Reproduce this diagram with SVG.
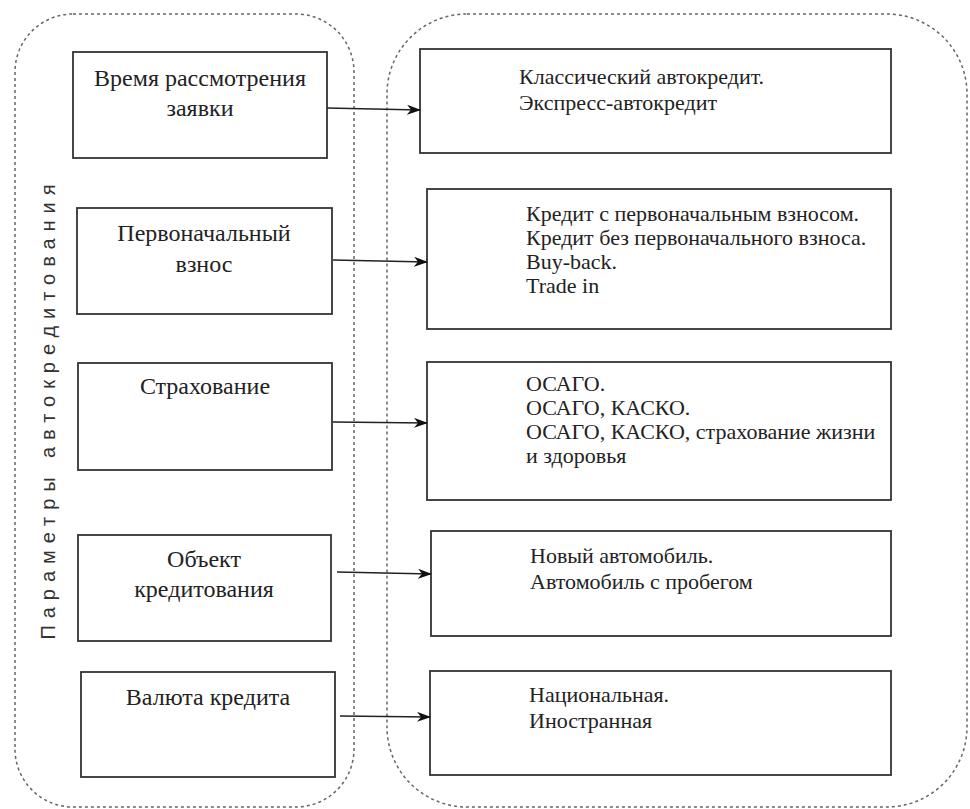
<svg xmlns="http://www.w3.org/2000/svg" width="970" height="809" viewBox="0 0 970 809">
  <defs>
    <marker id="arrow" viewBox="0 0 14 10" refX="13" refY="5" markerWidth="14" markerHeight="10" markerUnits="userSpaceOnUse" orient="auto">
      <path d="M0,0 L14,5 L0,10 L4,5 Z" fill="#111"/>
    </marker>
  </defs>
  <style>
    .frame { fill: none; stroke: #666; stroke-width: 1.5; stroke-dasharray: 3 3; }
    .box { fill: #fff; stroke: #333; stroke-width: 1.8; }
    .t { font-family: "Liberation Serif", "Times New Roman", serif; font-size: 22px; fill: #222; }
    .c { text-anchor: middle; font-size: 24px; }
    .side { font-family: "Liberation Sans", Arial, sans-serif; font-size: 20px; fill: #333; }
    .link { fill: none; stroke: #222; stroke-width: 1.6; marker-end: url(#arrow); }
  </style>
  <rect width="970" height="809" fill="#fff"/>

  <!-- dashed groupings -->
  <rect class="frame" x="15" y="14" width="339" height="793" rx="58" ry="58"/>
  <rect class="frame" x="387" y="14" width="580" height="793" rx="80" ry="80"/>

  <!-- rotated heading -->
  <text class="side" transform="translate(48,412) rotate(-90)" text-anchor="middle" dominant-baseline="central" textLength="455" lengthAdjust="spacing">Параметры автокредитования</text>

  <!-- parameters -->
  <g id="p1">
    <rect class="box" x="73" y="52" width="254" height="106"/>
    <text class="t c" x="200" y="86">Время рассмотрения</text>
    <text class="t c" x="200" y="116">заявки</text>
  </g>
  <g id="p2">
    <rect class="box" x="77" y="208" width="255" height="106"/>
    <text class="t c" x="204" y="241">Первоначальный</text>
    <text class="t c" x="204" y="272">взнос</text>
  </g>
  <g id="p3">
    <rect class="box" x="78" y="363" width="254" height="107"/>
    <text class="t c" x="205" y="394">Страхование</text>
  </g>
  <g id="p4">
    <rect class="box" x="78" y="535" width="253" height="106"/>
    <text class="t c" x="204" y="567">Объект</text>
    <text class="t c" x="204" y="597">кредитования</text>
  </g>
  <g id="p5">
    <rect class="box" x="81" y="672" width="254" height="105"/>
    <text class="t c" x="208" y="705">Валюта кредита</text>
  </g>

  <!-- variants -->
  <g id="v1">
    <rect class="box" x="420" y="49" width="471" height="104"/>
    <text class="t" x="519" y="84">Классический автокредит.</text>
    <text class="t" x="519" y="110">Экспресс-автокредит</text>
  </g>
  <g id="v2">
    <rect class="box" x="427" y="189" width="464" height="140"/>
    <text class="t" x="526" y="221">Кредит с первоначальным взносом.</text>
    <text class="t" x="526" y="245">Кредит без первоначального взноса.</text>
    <text class="t" x="526" y="269">Buy-back.</text>
    <text class="t" x="526" y="293">Trade in</text>
  </g>
  <g id="v3">
    <rect class="box" x="427" y="362" width="464" height="138"/>
    <text class="t" x="526" y="391">ОСАГО.</text>
    <text class="t" x="526" y="415">ОСАГО, КАСКО.</text>
    <text class="t" x="526" y="439">ОСАГО, КАСКО, страхование жизни</text>
    <text class="t" x="526" y="463">и здоровья</text>
  </g>
  <g id="v4">
    <rect class="box" x="431" y="531" width="460" height="105"/>
    <text class="t" x="530" y="563">Новый автомобиль.</text>
    <text class="t" x="530" y="589">Автомобиль с пробегом</text>
  </g>
  <g id="v5">
    <rect class="box" x="430" y="671" width="461" height="104"/>
    <text class="t" x="529" y="702">Национальная.</text>
    <text class="t" x="529" y="728">Иностранная</text>
  </g>

  <!-- connectors -->
  <g id="connectors">
    <path class="link" d="M327,108 L420,110"/>
    <path class="link" d="M333,260 L427,262"/>
    <path class="link" d="M333,422 L427,423"/>
    <path class="link" d="M337,572 L431,574"/>
    <path class="link" d="M340,716 L430,717"/>
  </g>
</svg>
